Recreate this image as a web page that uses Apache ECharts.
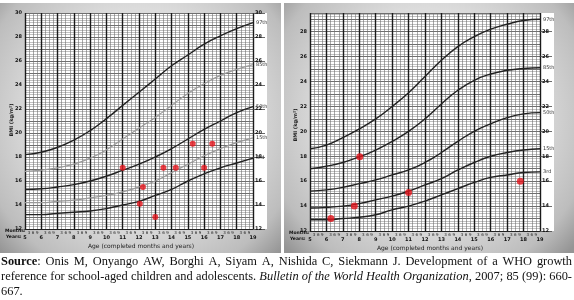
<!DOCTYPE html>
<html><head><meta charset="utf-8">
<script src="https://cdn.jsdelivr.net/npm/echarts@6/dist/echarts.min.js"></script>
<style>html,body{margin:0;padding:0;background:#fff}#c{width:574px;height:300px}</style>
</head><body><div id="c"></div>
<script>
const ages = [5,6,7,8,9,10,11,12,13,14,15,16,17,18,19];
const girlsP97 = [18.2,18.4,18.8,19.4,20.2,21.2,22.3,23.4,24.5,25.6,26.5,27.4,28.1,28.7,29.2];
const girlsP85 = [16.8,16.9,17.1,17.4,17.9,18.6,19.5,20.4,21.3,22.3,23.3,24.1,24.8,25.3,25.7];
const girlsP50 = [15.3,15.35,15.5,15.7,16.0,16.4,16.9,17.4,18.0,18.7,19.5,20.3,21.0,21.7,22.2];
const girlsP15 = [14.2,14.2,14.3,14.4,14.6,14.8,15.1,15.5,16.0,16.7,17.4,18.1,18.7,19.2,19.6];
const girlsP3  = [13.2,13.2,13.3,13.4,13.5,13.7,14.0,14.3,14.8,15.3,16.0,16.6,17.1,17.5,17.9];
const boysP97 = [18.6,18.9,19.5,20.2,21.0,22.0,23.1,24.4,25.7,26.8,27.6,28.2,28.6,28.9,29.0];
const boysP85 = [17.0,17.2,17.5,17.95,18.5,19.2,20.0,21.0,22.2,23.3,24.1,24.6,24.9,25.05,25.1];
const boysP50 = [15.2,15.3,15.5,15.8,16.1,16.5,16.9,17.5,18.3,19.2,20.0,20.6,21.1,21.4,21.5];
const boysP15 = [13.85,13.9,14.0,14.2,14.5,14.8,15.2,15.7,16.2,16.9,17.5,18.0,18.3,18.5,18.6];
const boysP3  = [12.9,12.9,13.0,13.1,13.3,13.7,14.0,14.4,14.9,15.4,15.9,16.3,16.5,16.7,16.75];
const percentileNames = ['97th','85th','50th','15th','3rd'];
const girlsPtAge = [11.0,12.24,12.05,13.0,13.5,14.26,15.3,16.0,16.5];
const girlsPtBmi = [17.1,15.5,14.1,13.0,17.1,17.1,19.1,17.1,19.1];
const boysPtAge = [8.03,6.27,7.7,11.0,17.8];
const boysPtBmi = [17.97,13.0,14.0,15.1,16.0];
const monthLabels = {0.25:'3',0.5:'6',0.75:'9'};
const xTitle = 'Age (completed months and years)';
const yTitle = 'BMI (kg/m²)';
const sourceLine1 = [{t:'Source', s:'b'},{t:':  Onis M, Onyango AW, Borghi A, Siyam A, Nishida C, Siekmann J. Development of a WHO growth', s:'n'}];
const sourceLine2 = [{t:'reference for school-aged children and adolescents. ', s:'n'},{t:'Bulletin of the World Health Organization', s:'i'},{t:', 2007; 85 (99): 660-', s:'n'}];
const sourceLine3 = [{t:'667.', s:'n'}];

const chart = echarts.init(document.getElementById('c'), null, {renderer:'canvas'});
const grids = [
  {left:25, top:13, width:228, height:216, ymax:30},
  {left:310, top:13, width:230, height:218, ymax:29.5}
];
const lab = {fontSize:5, color:'#111', fontWeight:'bold', fontFamily:'DejaVu Sans'};
const xAxes = [], yAxes = [];
grids.forEach((g,i)=>{
  xAxes.push({gridIndex:i, type:'value', min:5, max:19, interval:1,
    axisLine:{show:true, lineStyle:{color:'#222', width:1}}, axisTick:{show:false},
    axisLabel:Object.assign({margin:6}, lab),
    splitLine:{show:true, lineStyle:{color:'#1a1a1a', width:1.4}},
    minorTick:{show:false, splitNumber:4},
    minorSplitLine:{show:true, lineStyle:{color:'#6f6f6f', width:0.6}}});
  xAxes.push({gridIndex:i, type:'value', min:5, max:19, interval:0.25, position:'bottom',
    axisLine:{show:false}, axisTick:{show:false}, splitLine:{show:false},
    axisLabel:{margin:1.5, fontSize:4, color:'#222', fontFamily:'DejaVu Sans', showMinLabel:false, showMaxLabel:false,
      formatter:v=>{const f=Math.round((v-Math.floor(v))*100)/100; return monthLabels[f]||'';}}});
  yAxes.push({gridIndex:i, type:'value', min:12, max:g.ymax, interval:1,
    axisLine:{show:false}, axisTick:{show:false},
    axisLabel:Object.assign({margin:3, showMaxLabel:(i===0), formatter:v=>(v%2===0?String(v):'')}, lab),
    splitLine:{show:true, lineStyle:{color:'#4a4a4a', width:0.8}},
    minorTick:{show:false, splitNumber:5},
    minorSplitLine:{show:true, lineStyle:{color:'#808080', width:0.5}}});
  yAxes.push({gridIndex:i, type:'value', min:12, max:g.ymax, interval:2, position:'right',
    axisLine:{show:false}, axisTick:{show:true, length:12, inside:false, lineStyle:{color:'#444', width:0.8}},
    axisLabel:Object.assign({margin:2, showMaxLabel:(i===0)}, lab),
    splitLine:{show:false}});
});

function curve(gi, data, name, color, w){
  return {type:'line', xAxisIndex:gi*2, yAxisIndex:gi*2, smooth:0.5, symbol:'none',
    data:ages.map((a,k)=>[a,data[k]]), lineStyle:{color:color, width:w}, z:3, silent:true,
    endLabel:{show:true, formatter:name, fontSize:5, color:'#333', fontFamily:'DejaVu Sans', distance:3}};
}
const series = [
  curve(0, girlsP97, percentileNames[0], '#222', 1.4),
  curve(0, girlsP85, percentileNames[1], '#9a9a9a', 1.2),
  curve(0, girlsP50, percentileNames[2], '#222', 1.4),
  curve(0, girlsP15, percentileNames[3], '#9a9a9a', 1.2),
  curve(0, girlsP3, percentileNames[4], '#222', 1.4),
  curve(1, boysP97, percentileNames[0], '#222', 1.4),
  curve(1, boysP85, percentileNames[1], '#222', 1.4),
  curve(1, boysP50, percentileNames[2], '#222', 1.4),
  curve(1, boysP15, percentileNames[3], '#222', 1.4),
  curve(1, boysP3, percentileNames[4], '#222', 1.4),
  {type:'scatter', xAxisIndex:0, yAxisIndex:0, symbolSize:6, z:5,
    itemStyle:{color:'#e5141c'}, data:girlsPtAge.map((a,k)=>[a,girlsPtBmi[k]])},
  {type:'scatter', xAxisIndex:2, yAxisIndex:2, symbolSize:7, z:5,
    itemStyle:{color:'#e5141c'}, data:boysPtAge.map((a,k)=>[a,boysPtBmi[k]])}
];

function panelFill(){
  return new echarts.graphic.RadialGradient(0.5,0.45,0.78,[
    {offset:0, color:'#f2f2f2'},{offset:0.55, color:'#dcdcdc'},{offset:0.85, color:'#bdbdbd'},{offset:1, color:'#959595'}]);
}
const small = {fontSize:4.5, fill:'#111', fontWeight:'bold', fontFamily:'DejaVu Sans'};
const graphic = [
  {type:'rect', z:-20, shape:{x:0,y:3,width:281,height:250}, style:{fill:panelFill()}},
  {type:'rect', z:-20, shape:{x:284,y:3,width:290,height:250}, style:{fill:panelFill()}},
  {type:'rect', z:-10, shape:{x:25,y:13,width:242,height:216}, style:{fill:'#fff'}},
  {type:'rect', z:-10, shape:{x:310,y:13,width:244,height:218}, style:{fill:'#fff'}},
  {type:'text', z:5, x:5, y:231, style:Object.assign({text:'Months:', textVerticalAlign:'middle'}, small)},
  {type:'text', z:5, x:6, y:237, style:Object.assign({text:'Years:', textVerticalAlign:'middle'}, small)},
  {type:'text', z:5, x:289, y:233, style:Object.assign({text:'Months:', textVerticalAlign:'middle'}, small)},
  {type:'text', z:5, x:290, y:239, style:Object.assign({text:'Years:', textVerticalAlign:'middle'}, small)},
  {type:'text', z:5, x:141, y:246, style:{text:xTitle, textAlign:'center', textVerticalAlign:'middle', fontSize:6, fill:'#222', fontFamily:'DejaVu Sans'}},
  {type:'text', z:5, x:430, y:248, style:{text:xTitle, textAlign:'center', textVerticalAlign:'middle', fontSize:6, fill:'#222', fontFamily:'DejaVu Sans'}},
  {type:'text', z:5, x:12, y:120, rotation:Math.PI/2, style:{text:yTitle, textAlign:'center', textVerticalAlign:'middle', fontSize:5, fontWeight:'bold', fill:'#222', fontFamily:'DejaVu Sans'}},
  {type:'text', z:5, x:296, y:125, rotation:Math.PI/2, style:{text:yTitle, textAlign:'center', textVerticalAlign:'middle', fontSize:5, fontWeight:'bold', fill:'#222', fontFamily:'DejaVu Sans'}}
];

// justified source text
const FS = 12.4, FAM = '"Liberation Serif"';
const mctx = document.createElement('canvas').getContext('2d');
function fontOf(s){ return (s==='i'?'italic ':'') + (s==='b'?'bold ':'') + FS + 'px ' + FAM; }
function addLine(segs, y, justify){
  const words = []; let cur = [];
  segs.forEach(seg=>{
    seg.t.split(/(\s+)/).forEach(tok=>{
      if (tok === '') return;
      if (/^\s+$/.test(tok)) { if (cur.length) { words.push(cur); cur = []; } }
      else cur.push({t:tok, s:seg.s});
    });
  });
  if (cur.length) words.push(cur);
  let total = 0;
  words.forEach(w=>{ w.width = 0; w.forEach(p=>{ mctx.font = fontOf(p.s); p.w = mctx.measureText(p.t).width; w.width += p.w; }); total += w.width; });
  mctx.font = fontOf('n');
  const space = mctx.measureText(' ').width;
  const x0 = 1, x1 = 572;
  const gap = justify && words.length>1 ? (x1 - x0 - total)/(words.length-1) : space;
  let x = x0;
  words.forEach(w=>{
    w.forEach(p=>{
      graphic.push({type:'text', z:5, x:x, y:y, style:{text:p.t, textVerticalAlign:'middle', fill:'#111',
        fontFamily:'Liberation Serif', fontSize:FS, fontStyle:p.s==='i'?'italic':'normal', fontWeight:p.s==='b'?'bold':'normal'}});
      x += p.w;
    });
    x += gap;
  });
}
addLine(sourceLine1, 262, true);
addLine(sourceLine2, 277, true);
addLine(sourceLine3, 292, false);

chart.setOption({
  animation:false, backgroundColor:'#fff',
  grid:grids.map(g=>({left:g.left, top:g.top, width:g.width, height:g.height, containLabel:false})),
  xAxis:xAxes, yAxis:yAxes, series:series, graphic:graphic
});
</script></body></html>
